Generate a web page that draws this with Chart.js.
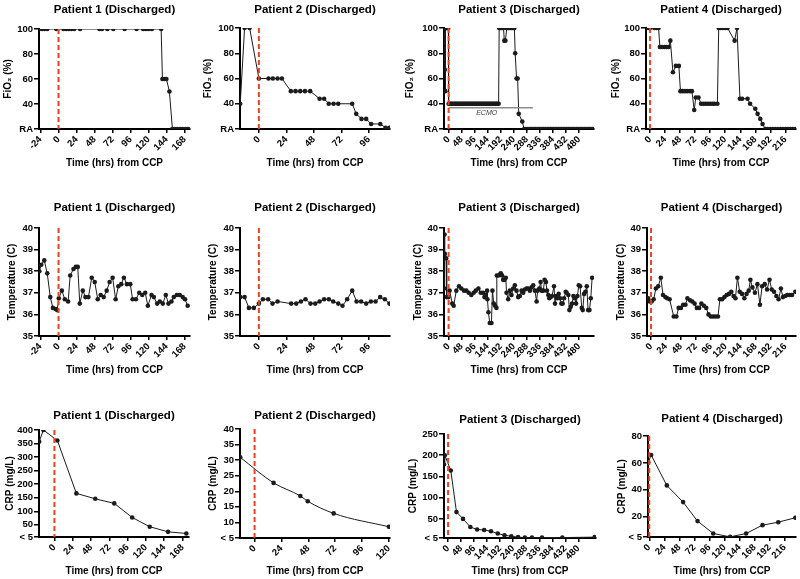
<!DOCTYPE html>
<html>
<head>
<meta charset="utf-8">
<script src="https://cdn.jsdelivr.net/npm/chart.js@4.4.0/dist/chart.umd.min.js"></script>
<style>
  body { margin: 0; background: #fff; }
  #page { position: relative; width: 800px; height: 579px; overflow: hidden; }
  #page canvas { position: absolute; }
</style>
</head>
<body>
<div id="page"></div>
<script>
// ---- tick values / labels ----
var fio2Ticks = [20, 40, 60, 80, 100];
var fio2Labels = ['RA', '40', '60', '80', '100'];
var tempTicks = [35, 36, 37, 38, 39, 40];
var tempLabels = ['35', '36', '37', '38', '39', '40'];
var crp1Ticks = [5, 50, 100, 150, 200, 250, 300, 350, 400];
var crp1Labels = ['< 5', '50', '100', '150', '200', '250', '300', '350', '400'];
var crp2Ticks = [5, 10, 15, 20, 25, 30, 35, 40];
var crp2Labels = ['< 5', '10', '15', '20', '25', '30', '35', '40'];
var crp3Ticks = [5, 50, 100, 150, 200, 250];
var crp3Labels = ['< 5', '50', '100', '150', '200', '250'];
var crp4Ticks = [5, 20, 40, 60, 80];
var crp4Labels = ['< 5', '20', '40', '60', '80'];

var hrsP1 = [-24, 0, 24, 48, 72, 96, 120, 144, 168];
var hrsP1crp = [0, 24, 48, 72, 96, 120, 144, 168];
var hrsP2 = [0, 24, 48, 72, 96];
var hrsP2crp = [0, 24, 48, 72, 96, 120];
var hrsP3 = [0, 48, 96, 144, 192, 240, 288, 336, 384, 432, 480];
var hrsP4 = [0, 24, 48, 72, 96, 120, 144, 168, 192, 216];

var titles = ['Patient 1 (Discharged)', 'Patient 2 (Discharged)', 'Patient 3 (Discharged)', 'Patient 4 (Discharged)'];
var timeTitle = 'Time (hrs) from CCP';

// ---- FiO2 (%) : [hours, value], RA plotted at 20 ----
var fio2P1 = [[-25.6,100],[-22,100],[-18.6,100],[-15,100],[-3,100],[6.6,100],[10.2,100],[13.7,100],[17.2,100],[20.8,100],
  [28.7,100],[54.4,100],[57.9,100],[65,100],[72.9,100],[88,100],[103.9,100],[112.7,100],[116.2,100],[119.8,100],
  [124.2,100],[136.6,100],[138.3,60],[141,60],[143.6,60],[147.6,50],[151.6,20],[154.7,20],[158,20],[161.8,20],
  [165,20],[168.8,20],[172.4,20]];
var fio2P2 = [[-16.3,40],[-12.5,100],[-8.1,100],[0,60],[8.4,60],[12.2,60],[16.3,60],[20.1,60],[27.9,50],[32,50],
  [36.1,50],[40.2,50],[44.8,50],[53,44],[57,44],[61,40],[65.2,40],[69.3,40],[81.5,40],[85,32],[89.6,28],[93.7,28],
  [98,24],[106,24],[110.6,21],[114,21]];
var fio2P3 = [[-16,100],[-15,100],[-14,67],[-13,100],[-12,50],[-11,100],[-9,100],[-7,100],[-5,100],[-3,100],[-1,100],
  [0,40],[4,40],[8,40],[12,40],[16,40],[20,40],[24,40],[28,40],[32,40],[36,40],[40,40],[44,40],[48,40],[52,40],
  [56,40],[60,40],[64,40],[68,40],[72,40],[76,40],[80,40],[84,40],[88,40],[92,40],[96,40],[100,40],[104,40],
  [108,40],[112,40],[116,40],[120,40],[124,40],[128,40],[132,40],[136,40],[140,40],[144,40],[148,40],[152,40],
  [156,40],[160,40],[164,40],[168,40],[172,40],[176,40],[180,40],[184,40],
  [186,100],[190,100],[194,100],[198,100],[202,100],[205,90],[209,90],[214,100],[218,100],[222,100],[226,100],
  [230,100],[234,100],[238,100],[242,100],[245,80],[250,60],[254,60],[258,32],[271,26],[278,20],
  [284,20],[290,20],[296,20],[302,20],[308,20],[314,20],[320,20],[326,20],[332,20],[338,20],[344,20],[350,20],
  [356,20],[362,20],[368,20],[374,20],[380,20],[386,20],[392,20],[398,20],[404,20],[410,20],[416,20],[422,20],
  [428,20],[434,20],[440,20],[446,20],[452,20],[458,20],[464,20],[470,20],[476,20],[482,20],[488,20],[494,20],
  [500,20],[506,20],[512,20],[518,20],[524,20],[530,20]];
var ecmoP3 = [[0,36.8],[310,36.8]];
var fio2P4 = [[-5.7,100],[-2.6,100],[0,100],[6.8,100],[10.4,100],[13.6,100],[15.7,85],[19.3,85],[23,85],[26,85],
  [29.8,85],[32.4,90],[36.5,65],[41.2,70],[46,70],[48.5,50],[52.2,50],[55.8,50],[59.5,50],[63.7,50],[66.8,50],
  [70.5,35],[73,45],[77.3,45],[81.4,40],[85,40],[88.7,40],[92.4,40],[96,40],[99.7,40],[103,40],[107.5,40],
  [109.6,100],[112.7,100],[116.4,100],[120,100],[123.7,100],[135,90],[138.8,100],[143.5,44],[147,44],[155.6,44],
  [159.7,40],[168,36],[171.7,32],[176,28],[179.6,24],[184,20],[188,20],[192,20],[196,20],[200,20],[204,20],
  [208,20],[212,20],[216,20],[220,20],[224,20],[228,20],[232,20]];

// ---- Temperature (C) ----
var tempP1 = [[-25.6,38.0],[-23,38.3],[-19,38.5],[-15,37.9],[-11,36.8],[-7.5,36.3],[-4,36.25],[-1.8,36.2],[0.4,36.75],
  [4.4,37.1],[8.4,36.7],[12.8,36.6],[15.5,37.8],[19.9,38.1],[23,38.2],[25.6,38.2],[28.3,36.5],[32.3,37.1],[35.8,36.8],
  [39.8,36.8],[44.2,37.7],[48.2,37.5],[52.2,36.7],[56.1,36.9],[60.1,36.8],[64.1,37.1],[68,37.5],[72,37.7],[76,36.7],
  [79.6,37.3],[83.5,37.4],[87,37.7],[91,37.4],[95.5,37.4],[98.6,36.7],[103,36.7],[107.4,37.0],[111.4,36.9],
  [115.4,37.0],[118.9,36.4],[123.8,36.9],[126.9,36.8],[131.3,36.5],[134.8,36.6],[138.8,36.5],[142.8,36.9],
  [146.3,36.5],[150.3,36.6],[153.4,36.8],[157.4,36.9],[161.3,36.9],[165.3,36.8],[168.4,36.7],[171.9,36.4]];
var tempP2 = [[-16.3,36.8],[-12.5,36.8],[-8.7,36.3],[-4.4,36.3],[0,36.5],[3.5,36.7],[8.1,36.7],[11.9,36.5],[16.3,36.6],
  [28.2,36.5],[32.6,36.5],[36.7,36.6],[40.7,36.7],[45.1,36.5],[49.2,36.5],[53,36.6],[57,36.7],[61.1,36.7],[64.9,36.6],
  [69.3,36.5],[73,36.4],[77.1,36.7],[81.5,37.1],[85.3,36.6],[89.3,36.6],[93.7,36.5],[97.8,36.6],[101.9,36.6],
  [105.9,36.8],[110,36.7],[114,36.5]];
var tempP3 = [[-16,37.2],[-15,39.7],[-14,38.8],[-9,38.6],[-7,36.8],[-1,36.8],[3.7,37.1],[13.5,36.5],[18.5,36.4],
  [28.3,37.1],[38.2,37.3],[46.8,37.2],[56.6,37.1],[65.2,37.1],[73.9,37.0],[83.7,36.9],[92.3,37.0],[99.7,37.1],
  [109.6,37.2],[118.2,37.0],[126.8,37.0],[131.7,36.8],[136.6,36.9],[141.6,37.1],[142.8,36.7],[146.5,36.1],
  [151.4,35.6],[157.6,35.6],[161.3,37.1],[166.2,36.5],[171.1,36.4],[176,36.3],[177.3,37.8],[183.4,37.8],
  [188.3,37.85],[192,37.9],[197,37.8],[200.7,37.6],[205.6,37.6],[210.5,37.7],[213,37.0],[219.1,36.7],[225.3,37.1],
  [231.4,36.9],[237.6,37.2],[243.7,37.35],[249.9,37.1],[256,36.8],[262.2,36.85],[268.4,37.1],[274.5,37.0],
  [280.7,37.15],[286.8,37.2],[293,37.2],[299.1,37.1],[305.3,37.25],[311.4,37.35],[317.6,37.1],[323.8,36.6],
  [327.4,37.1],[333.6,37.2],[338.5,37.5],[342.2,37.1],[348.4,37.1],[353.3,37.6],[358.2,37.5],[361.9,37.1],
  [366.8,36.9],[370.5,36.75],[375.5,36.8],[380.4,36.85],[387.8,37.3],[391.5,36.5],[395.2,36.85],[400.1,36.75],
  [405,36.95],[409.9,36.75],[414.8,36.5],[419.8,36.5],[424.7,36.75],[430.9,37.05],[434.5,37.0],[440.7,36.9],
  [444.4,36.2],[449.3,36.35],[454.2,36.5],[459.2,36.85],[464.1,36.75],[469,36.5],[474,36.85],[478.9,37.35],
  [483.8,37.3],[490,36.3],[493.6,36.2],[498.6,36.95],[503.5,37.05],[508.4,37.3],[513.3,36.2],[518.3,36.2],
  [523.2,36.75],[528.1,37.7]];
var tempP4 = [[-4.7,36.75],[-2.1,36.6],[1,36.6],[4.2,36.7],[7.8,37.2],[11.5,37.3],[15.7,37.7],[19.3,36.9],[23,36.8],
  [26,36.75],[29.8,36.7],[36.5,35.9],[40.7,35.9],[44.4,36.3],[48,36.3],[51.7,36.45],[55.3,36.45],[58.5,36.75],
  [62.6,36.65],[66.3,36.6],[70,36.5],[73.6,36.3],[77.3,36.3],[80.9,36.5],[85,36.4],[88.7,36.3],[92.4,36.0],
  [96,35.9],[99.7,35.9],[103.4,35.9],[107.5,35.9],[110.7,36.7],[114.3,36.7],[118,36.8],[121.6,36.9],[125.3,36.95],
  [129,37.05],[132.6,36.85],[135.7,36.75],[138.8,37.7],[142.5,37.05],[146.2,36.95],[150,36.75],[153.5,36.95],
  [157,37.1],[159.7,37.6],[162.9,37.25],[167,37.0],[171,37.4],[175,36.45],[178.5,37.3],[182.7,37.4],[186.5,37.15],
  [190.4,37.6],[194,37.15],[197.7,37.05],[201.4,36.85],[205,36.7],[208.7,37.2],[212,36.8],[215.6,36.85],
  [219,36.9],[223,36.9],[226.6,36.9],[232,37.05]];

// ---- CRP (mg/L) ----
var crpP1 = [[-20,357],[-14.4,400],[3.9,361],[28.8,166],[53.6,146],[78.5,129],[102,77],[125,43],[149,24],[173,18]];
var crpP2 = [[-12.8,30.9],[17,22.7],[40.9,18.5],[47.5,16.8],[70.7,12.9],[120,8.6]];
var crpP3 = [[-15,178],[-12,200],[10,164],[31,66],[55,50],[82,31],[107,25],[133,24],[158,21],[183,15.5],[208,11.6],
  [233,9],[258,7],[283,6],[309,6],[346,6],[421,6],[540,7]];
var crpP4 = [[-1.5,60.4],[3,65.9],[28,43.3],[54,30.9],[77,16.8],[102,7.6],[129,5.1],[154.5,7.6],[180.6,13.8],
  [205.7,16],[233,19.3]];

var FONT = "'Liberation Sans', Arial, sans-serif";
var INK = '#1b1b1b';

// red dashed line at CCP (t = 0), and panel title / notes
var ccpLine = {
  id: 'ccpLine',
  afterDatasetsDraw: function(chart) {
    var a = chart.chartArea, x = chart.scales.x.getPixelForValue(0), ctx = chart.ctx;
    ctx.save();
    ctx.strokeStyle = '#f2401c';
    ctx.lineWidth = 2;
    ctx.setLineDash([5, 3]);
    ctx.beginPath();
    ctx.moveTo(x, a.top);
    ctx.lineTo(x, a.bottom);
    ctx.stroke();
    ctx.restore();
  }
};
var panelText = {
  id: 'panelText',
  afterDraw: function(chart, args, opts) {
    var ctx = chart.ctx, a = chart.chartArea;
    ctx.save();
    ctx.fillStyle = '#000';
    ctx.textAlign = 'center';
    ctx.textBaseline = 'middle';
    ctx.font = 'bold 11.5px ' + FONT;
    ctx.fillText(opts.title, (a.left + a.right) / 2, opts.titleY);
    if (opts.note) {
      ctx.font = 'italic 7px ' + FONT;
      ctx.fillStyle = '#444';
      ctx.fillText(opts.note.text, chart.scales.x.getPixelForValue(opts.note.x),
        chart.scales.y.getPixelForValue(opts.note.y) + 5);
    }
    ctx.restore();
  }
};

function makePanel(p) {
  var L = p.cell[0], T = p.cell[1], W = p.cell[2], H = p.cell[3];
  var cv = document.createElement('canvas');
  cv.width = W; cv.height = H;
  cv.style.left = L + 'px'; cv.style.top = T + 'px';
  document.getElementById('page').appendChild(cv);

  var padLeft = Math.max(p.yTitleX - 6 - L, 0);
  var yAxisW = p.plot[0] - L - padLeft;
  var xAxisH = p.xTitleY + 6 - p.plot[3];
  var tickFont = { family: FONT, size: 9.5, weight: 'bold' };
  var titleFont = { family: FONT, size: 10, weight: 'bold', lineHeight: 1.2 };

  var datasets = [{
    data: p.data.map(function(d) { return { x: d[0], y: d[1] }; }),
    borderColor: INK, borderWidth: 1, tension: 0,
    cubicInterpolationMode: p.smooth ? 'monotone' : 'default',
    pointRadius: 2.3, pointBackgroundColor: INK, pointBorderWidth: 0
  }];
  if (p.ecmo) {
    datasets.unshift({
      data: p.ecmo.map(function(d) { return { x: d[0], y: d[1] }; }),
      borderColor: '#8c8c8c', borderWidth: 1.5, pointRadius: 0
    });
  }

  new Chart(cv, {
    type: 'line',
    data: { datasets: datasets },
    options: {
      responsive: false,
      animation: false,
      layout: { padding: { left: padLeft, top: p.plot[1] - T, right: L + W - p.plot[2], bottom: T + H - (p.xTitleY + 6) } },
      plugins: {
        legend: { display: false },
        tooltip: { enabled: false },
        panelText: { title: p.title, titleY: p.titleY - T, note: p.note }
      },
      scales: {
        x: {
          type: 'linear', min: p.x[0], max: p.x[1],
          afterBuildTicks: function(s) { s.ticks = p.xTicks.map(function(v) { return { value: v }; }); },
          afterFit: function(s) { s.height = xAxisH; },
          ticks: { autoSkip: false, minRotation: 45, maxRotation: 45, color: '#000', font: tickFont, padding: 1,
                   callback: function(v) { return String(v); } },
          grid: { drawOnChartArea: false, drawTicks: true, tickLength: 4, color: '#000', lineWidth: 1.5 },
          border: { display: true, color: '#000', width: 2 },
          title: { display: true, text: timeTitle, color: '#000', font: titleFont, padding: 0 }
        },
        y: {
          type: 'linear', min: p.yTicks[0], max: p.yTicks[p.yTicks.length - 1],
          afterBuildTicks: function(s) { s.ticks = p.yTicks.map(function(v) { return { value: v }; }); },
          afterFit: function(s) { s.width = yAxisW; },
          ticks: { autoSkip: false, color: '#000', font: tickFont, padding: 1,
                   callback: function(v, i) { return p.yLabels[i]; } },
          grid: { drawOnChartArea: false, drawTicks: true, tickLength: 5, color: '#000', lineWidth: 1.5 },
          border: { display: true, color: '#000', width: 2 },
          title: { display: true, text: p.yTitle, color: '#000', font: titleFont, padding: 0 }
        }
      }
    },
    plugins: [ccpLine, panelText]
  });
}

var fio2Title = 'FiO\u2082 (%)', tempTitle = 'Temperature (C)', crpTitle = 'CRP (mg/L)';

var panels = [
  { cell: [0, 0, 200, 190], plot: [39, 29, 190, 129], x: [-26, 175], xTicks: hrsP1, yTicks: fio2Ticks, yLabels: fio2Labels,
    yTitle: fio2Title, yTitleX: 8, title: titles[0], titleY: 10, xTitleY: 163, data: fio2P1 },
  { cell: [200, 0, 200, 190], plot: [240, 28, 390, 129], x: [-16.5, 114.5], xTicks: hrsP2, yTicks: fio2Ticks, yLabels: fio2Labels,
    yTitle: fio2Title, yTitleX: 208, title: titles[1], titleY: 10, xTitleY: 163, data: fio2P2 },
  { cell: [400, 0, 200, 190], plot: [444, 28, 594, 129], x: [-17, 535], xTicks: hrsP3, yTicks: fio2Ticks, yLabels: fio2Labels,
    yTitle: fio2Title, yTitleX: 410, title: titles[2], titleY: 10, xTitleY: 163, data: fio2P3, ecmo: ecmoP3,
    note: { text: 'ECMO', x: 140, y: 36.8 } },
  { cell: [600, 0, 200, 190], plot: [646, 28, 799, 129], x: [-6.5, 233], xTicks: hrsP4, yTicks: fio2Ticks, yLabels: fio2Labels,
    yTitle: fio2Title, yTitleX: 616, title: titles[3], titleY: 10, xTitleY: 163, data: fio2P4 },

  { cell: [0, 190, 200, 190], plot: [39, 228, 190, 336], x: [-26, 175], xTicks: hrsP1, yTicks: tempTicks, yLabels: tempLabels,
    yTitle: tempTitle, yTitleX: 12, title: titles[0], titleY: 208, xTitleY: 370, data: tempP1 },
  { cell: [200, 190, 200, 190], plot: [240, 228, 390, 336], x: [-16.5, 114.5], xTicks: hrsP2, yTicks: tempTicks, yLabels: tempLabels,
    yTitle: tempTitle, yTitleX: 213, title: titles[1], titleY: 208, xTitleY: 370, data: tempP2 },
  { cell: [400, 190, 200, 190], plot: [444, 228, 594, 336], x: [-17, 535], xTicks: hrsP3, yTicks: tempTicks, yLabels: tempLabels,
    yTitle: tempTitle, yTitleX: 418, title: titles[2], titleY: 208, xTitleY: 370, data: tempP3 },
  { cell: [600, 190, 200, 190], plot: [647, 228, 799, 336], x: [-6.5, 233], xTicks: hrsP4, yTicks: tempTicks, yLabels: tempLabels,
    yTitle: tempTitle, yTitleX: 621, title: titles[3], titleY: 208, xTitleY: 370, data: tempP4 },

  { cell: [0, 380, 200, 199], plot: [39, 430, 189, 537], x: [-20.2, 176.5], xTicks: hrsP1crp, yTicks: crp1Ticks, yLabels: crp1Labels,
    yTitle: crpTitle, yTitleX: 10, title: titles[0], titleY: 416, xTitleY: 571, data: crpP1 },
  { cell: [200, 380, 200, 199], plot: [240, 429, 390, 538], x: [-13, 121], xTicks: hrsP2crp, yTicks: crp2Ticks, yLabels: crp2Labels,
    yTitle: crpTitle, yTitleX: 213, title: titles[1], titleY: 416, xTitleY: 571, data: crpP2, smooth: true },
  { cell: [400, 380, 200, 199], plot: [444, 434, 596, 538], x: [-15, 545], xTicks: hrsP3, yTicks: crp3Ticks, yLabels: crp3Labels,
    yTitle: crpTitle, yTitleX: 413, title: titles[2], titleY: 420, xTitleY: 571, data: crpP3 },
  { cell: [600, 380, 200, 199], plot: [648, 436, 799, 537], x: [-2, 234], xTicks: hrsP4, yTicks: crp4Ticks, yLabels: crp4Labels,
    yTitle: crpTitle, yTitleX: 622, title: titles[3], titleY: 419, xTitleY: 571, data: crpP4 }
];

panels.forEach(makePanel);
</script>
</body>
</html>
